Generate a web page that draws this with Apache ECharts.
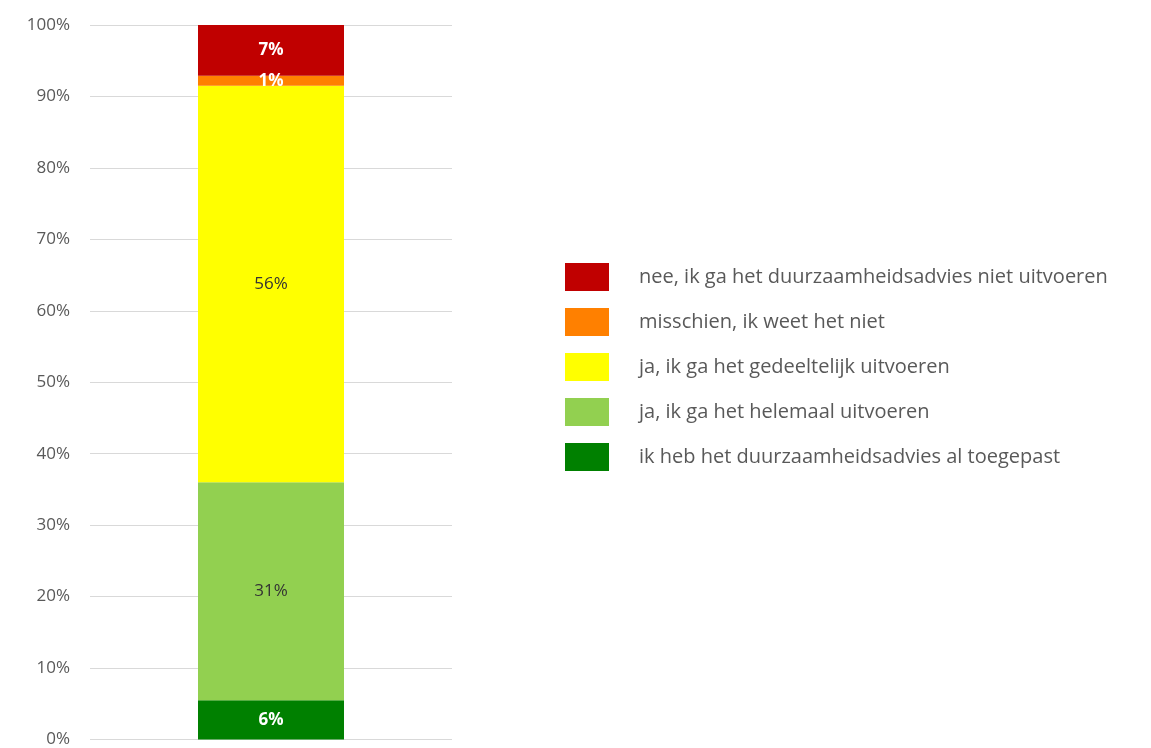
<!DOCTYPE html>
<html>
<head>
<meta charset="utf-8">
<script src="https://cdn.jsdelivr.net/npm/echarts@6/dist/echarts.min.js"></script>
<style>
  html, body { margin: 0; padding: 0; background: #fff; }
  #main { width: 1151px; height: 748px; }
</style>
</head>
<body>
<div id="main"></div>
<script>
// categories (one column) and answers, bottom to top
const categories = [''];
const answers = [
  'ik heb het duurzaamheidsadvies al toegepast',
  'ja, ik ga het helemaal uitvoeren',
  'ja, ik ga het gedeeltelijk uitvoeren',
  'misschien, ik weet het niet',
  'nee, ik ga het duurzaamheidsadvies niet uitvoeren'
];
// share in percent, same order as answers
const shares = [5.5, 30.5, 55.5, 1.4, 7.1];
const colors = ['#008000', '#92D050', '#FFFF00', '#FF8000', '#C00000'];
const labelColors = ['#ffffff', '#333333', '#333333', '#ffffff', '#ffffff'];
const labelWeights = ['bold', 'normal', 'normal', 'bold', 'bold'];
const yTicks = [0, 10, 20, 30, 40, 50, 60, 70, 80, 90, 100];

const chart = echarts.init(document.getElementById('main'));

const series = answers.map((name, i) => ({
  name: name,
  type: 'bar',
  stack: 'total',
  barWidth: 146,
  data: [shares[i]],
  itemStyle: { color: colors[i] },
  label: {
    show: true,
    position: 'inside',
    color: labelColors[i],
    fontFamily: 'Open Sans',
    fontWeight: labelWeights[i],
    fontSize: 17,
    formatter: p => Math.round(p.value) + '%'
  }
}));

chart.setOption({
  animation: false,
  backgroundColor: '#ffffff',
  grid: { left: 90, top: 25, width: 362, bottom: 8 },
  xAxis: {
    type: 'category',
    data: categories,
    axisLine: { show: false },
    axisTick: { show: false },
    axisLabel: { show: false }
  },
  yAxis: {
    type: 'value',
    min: yTicks[0],
    max: yTicks[yTicks.length - 1],
    interval: 10,
    axisLine: { show: false },
    axisTick: { show: false },
    axisLabel: {
      formatter: '{value}%',
      color: '#595959',
      fontFamily: 'Open Sans',
      fontSize: 17,
      margin: 20
    },
    splitLine: { lineStyle: { color: '#d9d9d9', width: 1 } }
  },
  legend: {
    orient: 'vertical',
    left: 560,
    top: 258,
    itemWidth: 44,
    itemHeight: 28,
    itemGap: 17,
    icon: 'rect',
    data: answers.slice().reverse(),
    textStyle: {
      color: '#595959',
      fontFamily: 'Open Sans',
      fontSize: 20,
      padding: [0, 0, 0, 25]
    }
  },
  series: series
});
</script>
</body>
</html>
